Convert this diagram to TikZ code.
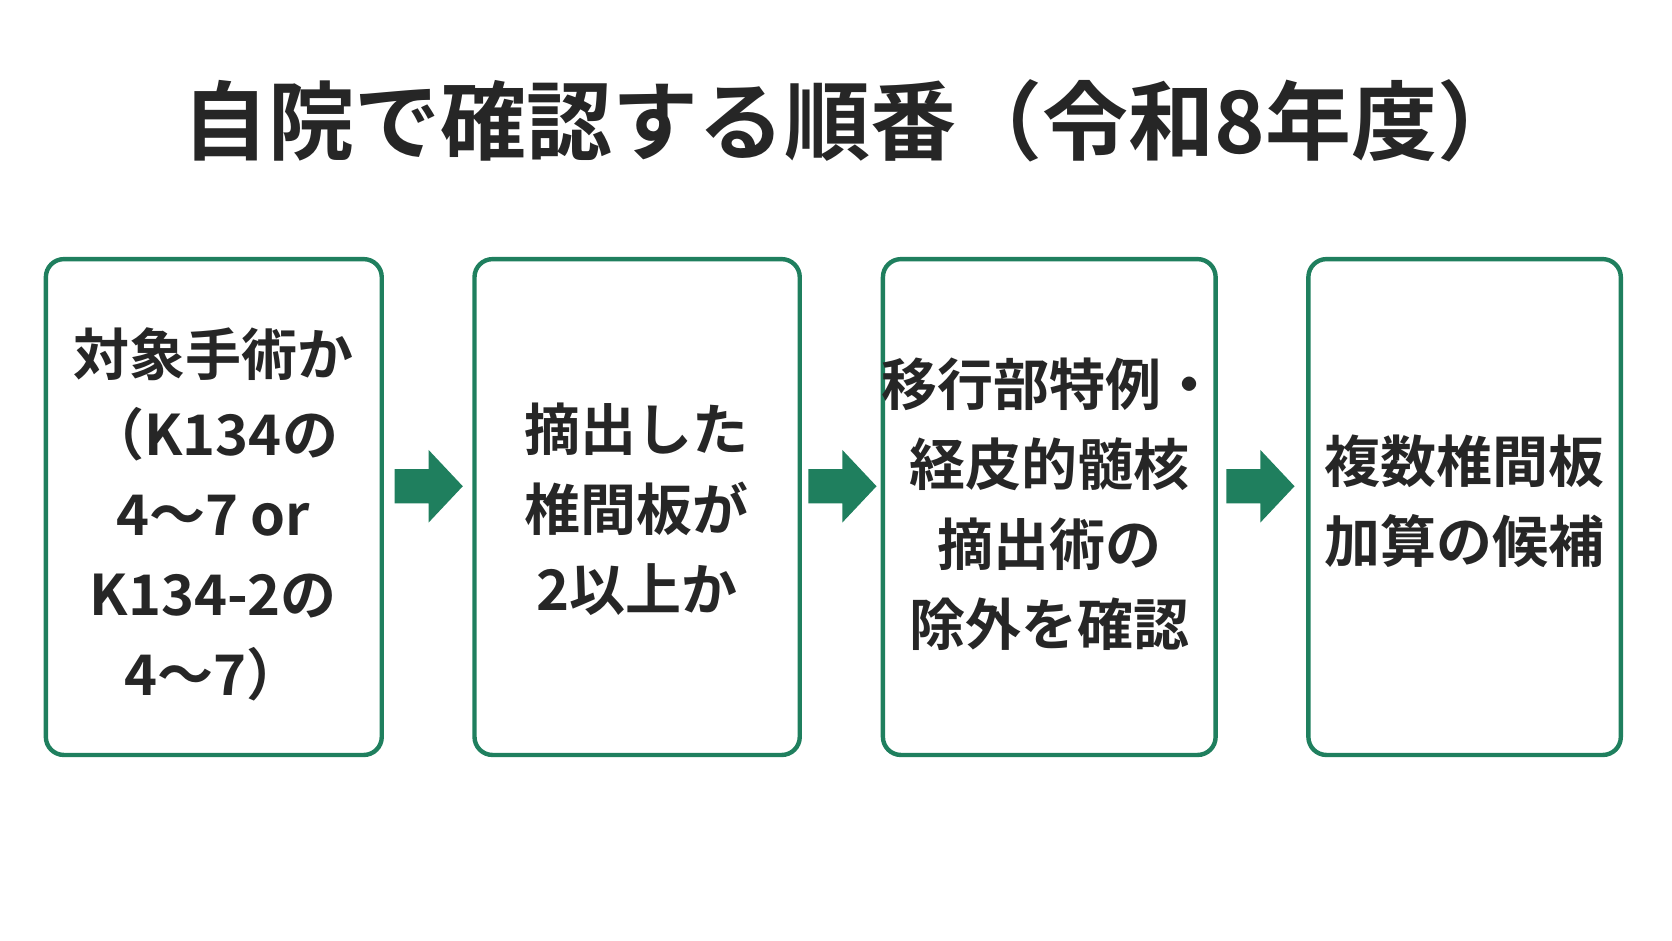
\documentclass[tikz,border=0pt]{standalone}
\usepackage{fontspec}
\setmainfont{Noto Sans CJK JP}[BoldFont={* Bold}]
\definecolor{grn}{HTML}{1F7F5E}
\begin{document}
\begin{tikzpicture}[x=0.5332pt,y=-0.5332pt,
 box/.style={draw=grn,line width=2.2pt,rounded corners=9pt},
 txt/.style={font=\fontsize{28}{40}\selectfont\bfseries,align=center,text=black!85},
 arr/.style={fill=grn,draw=none}]
\useasboundingbox (0,0) rectangle (1568,882.4);
\node[font=\fontsize{43}{48}\selectfont\bfseries,text=black!85] (title) at (800,113) {自院で確認する順番（令和8年度）};
\draw[box] (43,243) rectangle (358,708) coordinate (b1);
\draw[box] (445,243) rectangle (750,708) coordinate (b2);
\draw[box] (828,243) rectangle (1140,708) coordinate (b3);
\draw[box] (1227,243) rectangle (1520,708) coordinate (b4);
\node[txt] (t1) at (200,482) {対象手術か\\（K134の\\4～7 or\\K134-2の\\4～7）};
\node[txt] (t2) at (597,478) {摘出した\\椎間板が\\2以上か};
\node[txt] (t3) at (984,473) {移行部特例・\\経皮的髄核\\摘出術の\\除外を確認};
\node[txt] (t4) at (1373,470) {複数椎間板\\加算の候補};
\foreach \x/\n in {370/a1,758/a2,1150/a3}{
 \fill[arr] (\x,440) -- (\x+32,440) -- (\x+32,422) -- (\x+64,456) -- (\x+32,490) -- (\x+32,472) -- (\x,472) -- cycle;
}
\end{tikzpicture}
\end{document}
